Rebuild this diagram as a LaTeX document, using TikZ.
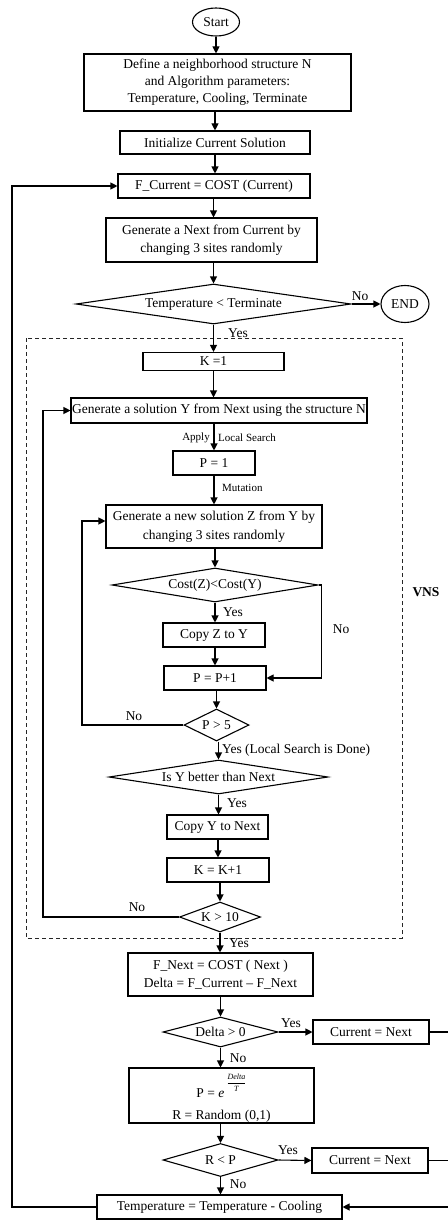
\documentclass[tikz,border=0pt]{standalone}
\usepackage{fontspec}
\setmainfont{Liberation Serif}
\usepackage{amsmath}
\usetikzlibrary{shapes.geometric,arrows.meta}

\begin{document}
\begin{tikzpicture}[x=1pt,y=-1pt,
  font=\fontsize{13.5}{18}\selectfont,
  every node/.style={inner sep=0pt},
  box/.style={draw, line width=1.1pt, rectangle, align=center},
  term/.style={draw, line width=1.1pt, ellipse},
  decide/.style={draw, line width=1.1pt, diamond},
  arr/.style={line width=1.1pt, -{Triangle[length=7pt,width=7pt]}},
  wire/.style={line width=1.1pt},
  lbl/.style={font=\fontsize{13.5}{15}\selectfont},
  small/.style={font=\fontsize{11}{12}\selectfont},
  vnsframe/.style={line width=0.9pt, dash pattern=on 4pt off 3pt, black!85},
]
\useasboundingbox (0,0) rectangle (447,1220);

% ---- outer simulated annealing part ----
\node[term, minimum width=47pt, minimum height=28pt] (start) at (216,22) {Start};
\node[box, minimum width=267pt, minimum height=57pt, font=\fontsize{13.5}{17}\selectfont] (def) at (217.5,82.5)
  {Define a neighborhood structure N\\and Algorithm parameters:\\Temperature, Cooling, Terminate};
\node[box, minimum width=190pt, minimum height=23pt] (init) at (215,142.5) {Initialize Current Solution};
\node[box, minimum width=192pt, minimum height=24pt] (fcur) at (214,186) {F\_Current = COST (Current)};
\node[box, minimum width=211pt, minimum height=44pt] (gen) at (211.5,240)
  {Generate a Next from Current by\\changing 3 sites randomly};
\node[decide, minimum width=275pt, minimum height=40pt, aspect=6.9] (dT) at (213.5,304) {Temperature < Terminate};
\node[term, minimum width=48pt, minimum height=37pt] (endN) at (405,304) {END};

% ---- VNS block ----
\draw[vnsframe] (26,338) rectangle (402,938);
\node[font=\bfseries\fontsize{13.5}{15}\selectfont] (vns) at (426,592) {VNS};

\node[box, minimum width=141pt, minimum height=18pt] (k1) at (213.5,361.5) {K =1};
\node[box, minimum width=296pt, minimum height=25pt] (genY) at (219,410.5)
  {Generate a solution Y from Next using the structure N};
\node[box, minimum width=82pt, minimum height=24pt] (p1) at (214,463) {P = 1};
\node[box, minimum width=216pt, minimum height=43pt, font=\fontsize{13.5}{19}\selectfont] (genZ) at (214,526.5)
  {Generate a new solution Z from Y by\\changing 3 sites randomly};
\node[decide, minimum width=206pt, minimum height=34pt, aspect=6.06] (dC) at (215,585) {Cost(Z)<Cost(Y)};
\node[box, minimum width=102pt, minimum height=24pt] (copyZ) at (214,635) {Copy Z to Y};
\node[box, minimum width=102pt, minimum height=24pt] (pinc) at (215,678) {P = P+1};
\node[decide, minimum width=65pt, minimum height=32pt, aspect=2.03] (dP) at (216.5,725) {P > 5};
\node[decide, minimum width=219pt, minimum height=34pt, aspect=6.44] (dY) at (218.5,777) {Is Y better than Next};
\node[box, minimum width=101pt, minimum height=24pt] (copyY) at (217.5,827) {Copy Y to Next};
\node[box, minimum width=102pt, minimum height=24pt] (kinc) at (218,870) {K = K+1};
\node[decide, minimum width=81pt, minimum height=30pt, aspect=2.7] (dK) at (220,917) {K > 10};

% ---- acceptance part ----
\node[box, minimum width=185pt, minimum height=43pt] (fnext) at (220.5,974.5)
  {F\_Next = COST ( Next )\\Delta = F\_Current -- F\_Next};
\node[decide, minimum width=115pt, minimum height=30pt, aspect=3.83] (dD) at (220.5,1032) {Delta > 0};
\node[box, minimum width=116pt, minimum height=24pt] (cn1) at (371,1032) {Current = Next};
\node[box, minimum width=185pt, minimum height=55pt] (pbox) at (221.5,1095.5)
  {\rule{0pt}{28pt}P = \textit{e}\hspace{2pt}\smash{\raisebox{12pt}{\fontsize{8}{9}\selectfont$\genfrac{}{}{0.4pt}{0}{\text{\itshape Delta}}{\text{\itshape T}}$}}\\[4pt]
   R = Random (0,1)};
\node[decide, minimum width=115pt, minimum height=33pt, aspect=3.48] (dR) at (220.5,1160) {R < P};
\node[box, minimum width=116pt, minimum height=25pt] (cn2) at (370,1160.5) {Current = Next};
\node[box, minimum width=245pt, minimum height=24pt] (temp) at (219.5,1207) {Temperature = Temperature - Cooling};

% ---- loop corners ----
\coordinate (oloop) at (12,186);
\coordinate (yloop) at (43,410.5);
\coordinate (zloop) at (82,521);
\coordinate (redge) at (449,1207);

% ---- straight flow ----
\draw[arr] (start.south) -- (start.south |- def.north);
\draw[arr] (def.south -| init.north) -- (init.north);
\draw[arr] (init.south) -- (init.south |- fcur.north);
\draw[arr] (fcur.south -| dT.north) -- (dT.north |- gen.north);
\draw[arr] (dT.north |- gen.south) -- (dT.north);
\draw[arr] (dT.east) -- (endN.west);
\draw[arr] (dT.south) -- (dT.south |- k1.north);
\draw[arr] (k1.south) -- (k1.south |- genY.north);
\draw[arr] (p1.north |- genY.south) -- (p1.north);
\draw[arr] (p1.south) -- (p1.south |- genZ.north);
\draw[arr] (genZ.south -| dC.north) -- (dC.north);
\draw[arr] (dC.south) -- (dC.south |- copyZ.north);
\draw[arr] (copyZ.south -| pinc.north) -- (pinc.north);
\draw[arr] (dC.east) -- ++(3,0) |- (pinc.east);
\draw[arr] (pinc.south -| dP.north) -- (dP.north);
\draw[arr] (dP.west) -| (zloop) -- (zloop -| genZ.west);
\draw[arr] (dP.south -| dY.north) -- (dY.north);
\draw[arr] (dY.south) -- (dY.south |- copyY.north);
\draw[arr] (copyY.south -| kinc.north) -- (kinc.north);
\draw[arr] (kinc.south -| dK.north) -- (dK.north);
\draw[arr] (dK.west) -| (yloop) -- (genY.west);
\draw[arr] (dK.south) -- (dK.south |- fnext.north);
\draw[arr] (fnext.south) -- (fnext.south |- dD.north);
\draw[arr] (dD.east) -- (cn1.west);
\draw[arr] (dD.south) -- (dD.south |- pbox.north);
\draw[arr] (pbox.south -| dR.north) -- (dR.north);
\draw[arr] (dR.east) -- (cn2.west);
\draw[arr] (dR.south) -- (dR.south |- temp.north);

% ---- return paths ----
\draw[wire] (cn1.east) -| (redge);
\draw[wire] (cn2.east) -- (cn2.east -| redge);
\draw[arr] (redge) -- (temp.east);
\draw[arr] (temp.west) -| (oloop) -- (fcur.west);

% ---- branch labels ----
\node[lbl] (lNoEnd) at (360,296) {No};
\node[lbl] (lYesT) at (238,333) {Yes};
\node[small, anchor=east] (lApply) at (210,438) {Apply};
\node[small, anchor=west] (lLocal) at (218,438) {Local Search};
\node[small, anchor=west] (lMut) at (222,488) {Mutation};
\node[lbl] (lYesC) at (233,612) {Yes};
\node[lbl] (lNoC) at (341,629) {No};
\node[lbl] (lNoP) at (134,716) {No};
\node[lbl, anchor=west] (lYesP) at (222,750) {Yes (Local Search is Done)};
\node[lbl] (lYesY) at (237,803) {Yes};
\node[lbl] (lNoK) at (137,907) {No};
\node[lbl] (lYesK) at (239,943) {Yes};
\node[lbl] (lYesD) at (291,1023) {Yes};
\node[lbl] (lNoD) at (238,1058) {No};
\node[lbl] (lYesR) at (288,1150) {Yes};
\node[lbl] (lNoR) at (238,1184) {No};
\end{tikzpicture}
\end{document}
